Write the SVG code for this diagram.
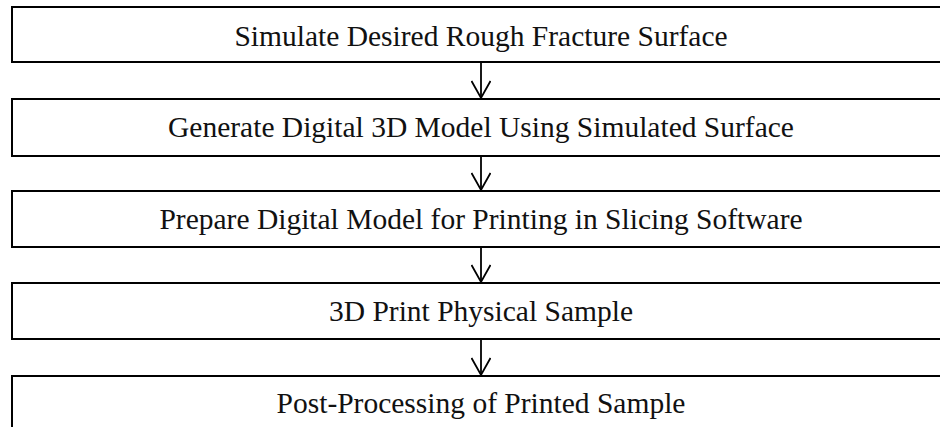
<svg xmlns="http://www.w3.org/2000/svg" width="940" height="427" viewBox="0 0 940 427">
  <style>
    .box { fill: #ffffff; stroke: #000000; stroke-width: 2; }
    .label { font-family: "Liberation Serif", "Times New Roman", serif; font-size: 29.5px; fill: #111111; text-anchor: middle; }
    .link { stroke: #000000; stroke-width: 1.8; fill: none; }
  </style>
  <defs>
    <!-- open chevron head, drawn along +x so orient="auto" points it down the line -->
    <marker id="chev" viewBox="0 0 20 20" refX="18" refY="10" markerWidth="20" markerHeight="20" markerUnits="userSpaceOnUse" orient="auto">
      <path d="M1,0.5 L18,10 L1,19.5" fill="none" stroke="#000" stroke-width="1.8"/>
    </marker>
  </defs>
  <rect width="940" height="427" fill="#ffffff"/>

  <g id="step1">
    <rect class="box" x="12" y="7" width="940" height="55"/>
    <text class="label" x="481" y="46">Simulate Desired Rough Fracture Surface</text>
  </g>
  <g id="step2">
    <rect class="box" x="12" y="99" width="940" height="57"/>
    <text class="label" x="481" y="137">Generate Digital 3D Model Using Simulated Surface</text>
  </g>
  <g id="step3">
    <rect class="box" x="12" y="191" width="940" height="56"/>
    <text class="label" x="481" y="229">Prepare Digital Model for Printing in Slicing Software</text>
  </g>
  <g id="step4">
    <rect class="box" x="12" y="283" width="940" height="56"/>
    <text class="label" x="481" y="321">3D Print Physical Sample</text>
  </g>
  <g id="step5">
    <rect class="box" x="12" y="376" width="940" height="80"/>
    <text class="label" x="481" y="413">Post-Processing of Printed Sample</text>
  </g>

  <g id="connectors">
    <line class="link" x1="481" y1="62" x2="481" y2="98" marker-end="url(#chev)"/>
    <line class="link" x1="481" y1="156" x2="481" y2="190" marker-end="url(#chev)"/>
    <line class="link" x1="481" y1="247" x2="481" y2="282" marker-end="url(#chev)"/>
    <line class="link" x1="481" y1="339" x2="481" y2="375" marker-end="url(#chev)"/>
  </g>
</svg>
